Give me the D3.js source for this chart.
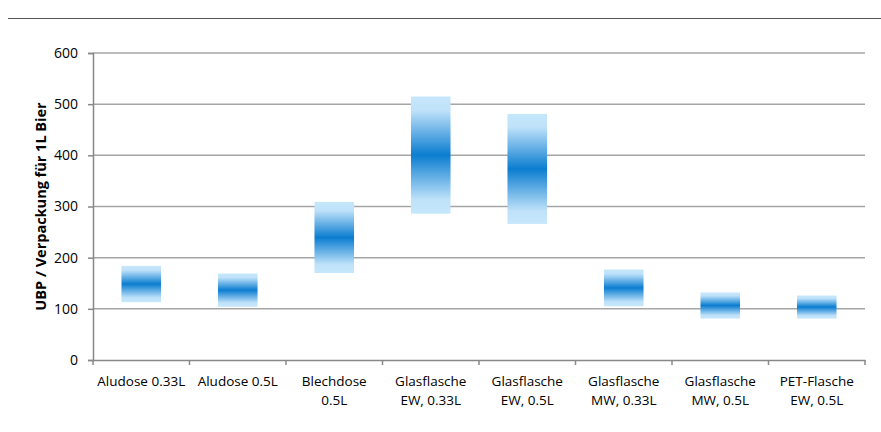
<!DOCTYPE html>
<html><head><meta charset="utf-8">
<script src="https://cdn.jsdelivr.net/npm/d3@7"></script>
<style>body{margin:0;background:#fff}svg{display:block}text{font-family:"Open Sans","Liberation Sans",sans-serif;fill:#000}</style>
</head><body><svg id="c" width="881" height="432"></svg>
<script>
const categories = [["Aludose 0.33L"],["Aludose 0.5L"],["Blechdose","0.5L"],["Glasflasche","EW, 0.33L"],["Glasflasche","EW, 0.5L"],["Glasflasche","MW, 0.33L"],["Glasflasche","MW, 0.5L"],["PET-Flasche","EW, 0.5L"]];
const lowValues  = [113, 104, 170, 286, 266, 105, 81, 81];
const highValues = [184, 169, 309, 515, 481, 177, 132, 126];
const yTicks = [0,100,200,300,400,500,600];
const yTitle = "UBP / Verpackung für 1L Bier";

const svg = d3.select("#c");
const m = {l:93, r:865, t:53, b:360};
const x = d3.scaleBand().domain(d3.range(categories.length)).range([m.l, m.r]).paddingInner(0).paddingOuter(0);
const y = d3.scaleLinear().domain([0,600]).range([m.b, m.t]);

// top rule
svg.append("line").attr("x1",8).attr("x2",881).attr("y1",18.5).attr("y2",18.5).attr("stroke","#555").attr("stroke-width",1);

// gradient
const defs = svg.append("defs");
const g = defs.append("linearGradient").attr("id","gr").attr("x1",0).attr("x2",0).attr("y1",0).attr("y2",1);
[[0,"#c6e7fb"],[0.12,"#bfe2fa"],[0.5,"#0b7dd0"],[0.88,"#bfe2fa"],[1,"#c6e7fb"]].forEach(([o,c])=>g.append("stop").attr("offset",o).attr("stop-color",c));

// gridlines
svg.append("g").selectAll("line").data(yTicks.filter(d=>d>0)).join("line")
  .attr("x1",m.l).attr("x2",m.r).attr("y1",d=>y(d)).attr("y2",d=>y(d))
  .attr("stroke","#a6a6a6").attr("stroke-width",1.5);

// y axis
const ya = svg.append("g").attr("transform",`translate(${m.l},0)`).call(d3.axisLeft(y).tickValues(yTicks).tickSize(5).tickPadding(10));
ya.select(".domain").attr("stroke","#888").attr("stroke-width",1.5);
ya.selectAll(".tick line").attr("stroke","#888").attr("stroke-width",1.5);
ya.selectAll("text").attr("font-size",14).attr("fill","#000");

// x axis
const xa = svg.append("g").attr("transform",`translate(0,${m.b})`).call(d3.axisBottom(x).tickSize(0).tickFormat(""));
xa.select(".domain").attr("stroke","#888").attr("stroke-width",1.5);
xa.selectAll(".tick").remove();
xa.selectAll("line.sep").data(d3.range(categories.length+1)).join("line").attr("class","sep")
  .attr("x1",i=>m.l+i*x.step()).attr("x2",i=>m.l+i*x.step()).attr("y1",0).attr("y2",5)
  .attr("stroke","#888").attr("stroke-width",1.5);

// labels
const lab = svg.append("g").selectAll("text").data(categories).join("text")
  .attr("text-anchor","middle").attr("font-size",13.5)
  .attr("transform",(d,i)=>`translate(${x(i)+x.bandwidth()/2},386)`);
lab.selectAll("tspan").data(d=>d).join("tspan").attr("x",0).attr("dy",(d,j)=>j?19:0).text(d=>d);

// bars
const bw = x.bandwidth()*0.41;
svg.append("g").selectAll("rect").data(categories).join("rect")
  .attr("x",(d,i)=>x(i)+x.bandwidth()/2-bw/2).attr("width",bw)
  .attr("y",(d,i)=>y(highValues[i])).attr("height",(d,i)=>y(lowValues[i])-y(highValues[i]))
  .attr("fill","url(#gr)");

// y title
svg.append("text").attr("transform",`translate(46,${(m.t+m.b)/2}) rotate(-90)`).attr("text-anchor","middle")
  .attr("font-size",14.5).attr("font-weight","bold").text(yTitle);
</script></body></html>
